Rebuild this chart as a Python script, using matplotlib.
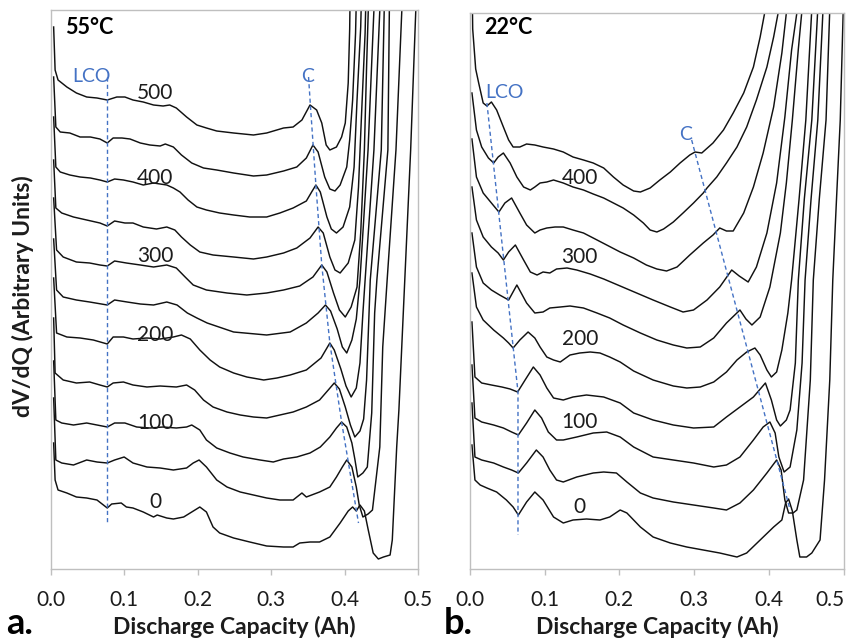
import matplotlib
matplotlib.use("Agg")
import matplotlib.pyplot as plt
import numpy as np

plt.rcParams["font.family"] = ["Lato", "DejaVu Sans"]

# dV/dQ traces, (capacity in Ah, stacked dV/dQ in arbitrary units), one list per cycle count
# 55 C cell
hot_500 = [(0.004, 542), (0.006, 499), (0.010, 489), (0.022, 482), (0.035, 476), (0.049, 472), (0.063, 471),
           (0.077, 469), (0.090, 472), (0.101, 472), (0.112, 469), (0.126, 467), (0.140, 464), (0.153, 463),
           (0.162, 464), (0.171, 461), (0.185, 452), (0.199, 444), (0.212, 441), (0.226, 438), (0.249, 436),
           (0.276, 434), (0.294, 436), (0.317, 441), (0.330, 442), (0.342, 449), (0.353, 464), (0.362, 459),
           (0.369, 446), (0.375, 424), (0.380, 419), (0.389, 422), (0.396, 432), (0.401, 446), (0.405, 486),
           (0.407, 540), (0.408, 600)]
hot_450 = [(0.004, 492), (0.007, 442), (0.013, 437), (0.026, 436), (0.040, 432), (0.054, 432), (0.067, 430),
           (0.077, 426), (0.085, 431), (0.097, 431), (0.108, 430), (0.122, 426), (0.135, 424), (0.149, 423),
           (0.156, 425), (0.167, 422), (0.178, 414), (0.192, 406), (0.208, 401), (0.226, 399), (0.249, 396),
           (0.276, 393), (0.294, 394), (0.317, 398), (0.335, 402), (0.348, 411), (0.357, 424), (0.364, 417),
           (0.373, 392), (0.380, 380), (0.387, 378), (0.394, 384), (0.403, 402), (0.407, 429), (0.411, 469),
           (0.415, 536), (0.417, 600)]
hot_400 = [(0.004, 452), (0.007, 402), (0.013, 397), (0.026, 394), (0.040, 392), (0.054, 391), (0.067, 389),
           (0.077, 387), (0.087, 390), (0.099, 389), (0.112, 387), (0.126, 384), (0.140, 386), (0.158, 384),
           (0.167, 381), (0.176, 377), (0.187, 369), (0.199, 362), (0.212, 359), (0.230, 356), (0.249, 354),
           (0.271, 352), (0.294, 352), (0.312, 356), (0.330, 361), (0.348, 368), (0.356, 378), (0.361, 384),
           (0.367, 377), (0.376, 352), (0.382, 340), (0.389, 336), (0.398, 342), (0.407, 362), (0.413, 402),
           (0.417, 469), (0.422, 542), (0.424, 600)]
hot_350 = [(0.004, 409), (0.007, 361), (0.015, 356), (0.031, 352), (0.049, 349), (0.067, 346), (0.077, 343),
           (0.087, 348), (0.101, 346), (0.112, 346), (0.126, 342), (0.144, 340), (0.158, 342), (0.169, 339),
           (0.178, 332), (0.190, 324), (0.203, 317), (0.221, 314), (0.249, 312), (0.276, 310), (0.294, 312),
           (0.317, 316), (0.335, 321), (0.353, 331), (0.364, 342), (0.371, 336), (0.380, 312), (0.387, 299),
           (0.394, 296), (0.405, 306), (0.414, 329), (0.419, 382), (0.423, 452), (0.428, 536), (0.430, 600)]
hot_300 = [(0.004, 371), (0.008, 319), (0.017, 312), (0.035, 307), (0.053, 306), (0.067, 304), (0.077, 303),
           (0.087, 308), (0.103, 306), (0.122, 304), (0.140, 302), (0.158, 304), (0.171, 301), (0.183, 292),
           (0.194, 284), (0.212, 279), (0.240, 276), (0.267, 274), (0.294, 276), (0.317, 279), (0.339, 283),
           (0.357, 292), (0.369, 304), (0.376, 297), (0.385, 276), (0.393, 259), (0.401, 252), (0.409, 262),
           (0.417, 282), (0.422, 336), (0.427, 419), (0.430, 502), (0.434, 600)]
hot_250 = [(0.004, 330), (0.008, 279), (0.017, 272), (0.035, 269), (0.053, 267), (0.077, 264), (0.087, 269),
           (0.104, 267), (0.122, 265), (0.140, 264), (0.158, 267), (0.172, 264), (0.186, 256), (0.199, 251),
           (0.213, 246), (0.249, 237), (0.294, 234), (0.326, 237), (0.348, 246), (0.364, 256), (0.374, 264),
           (0.381, 258), (0.390, 240), (0.397, 222), (0.403, 216), (0.410, 229), (0.416, 250), (0.421, 289),
           (0.432, 419), (0.440, 559), (0.441, 600)]
hot_200 = [(0.004, 291), (0.008, 236), (0.022, 232), (0.040, 231), (0.058, 229), (0.077, 225), (0.085, 232),
           (0.099, 232), (0.112, 230), (0.131, 231), (0.149, 230), (0.167, 232), (0.178, 234), (0.190, 230),
           (0.203, 219), (0.217, 209), (0.230, 202), (0.249, 196), (0.267, 192), (0.290, 189), (0.308, 191),
           (0.326, 194), (0.348, 199), (0.368, 211), (0.380, 226), (0.386, 219), (0.395, 200), (0.402, 183),
           (0.409, 172), (0.416, 181), (0.421, 206), (0.425, 256), (0.428, 289), (0.440, 419), (0.448, 559),
           (0.449, 600)]
hot_150 = [(0.004, 251), (0.006, 196), (0.017, 189), (0.035, 186), (0.053, 187), (0.067, 184), (0.077, 182),
           (0.085, 186), (0.099, 187), (0.112, 184), (0.131, 182), (0.149, 183), (0.171, 182), (0.185, 184),
           (0.196, 179), (0.208, 169), (0.221, 162), (0.240, 157), (0.258, 154), (0.276, 152), (0.294, 151),
           (0.312, 154), (0.330, 157), (0.348, 162), (0.366, 169), (0.379, 180), (0.386, 186), (0.393, 180),
           (0.401, 162), (0.408, 144), (0.414, 132), (0.421, 138), (0.426, 150), (0.430, 189), (0.435, 289),
           (0.450, 419), (0.454, 559), (0.455, 600)]
hot_100 = [(0.004, 208), (0.007, 149), (0.015, 146), (0.031, 144), (0.049, 146), (0.063, 144), (0.077, 142),
           (0.087, 146), (0.101, 146), (0.117, 142), (0.135, 141), (0.153, 142), (0.171, 141), (0.185, 142),
           (0.192, 144), (0.203, 139), (0.212, 129), (0.226, 121), (0.244, 116), (0.262, 112), (0.285, 109),
           (0.303, 107), (0.317, 110), (0.335, 112), (0.353, 116), (0.367, 122), (0.380, 132), (0.389, 141),
           (0.396, 147), (0.403, 142), (0.410, 126), (0.414, 110), (0.418, 92), (0.425, 96), (0.431, 102),
           (0.437, 156), (0.441, 256), (0.444, 289), (0.459, 419), (0.461, 559), (0.462, 600)]
hot_50 = [(0.004, 171), (0.007, 109), (0.015, 106), (0.031, 104), (0.049, 109), (0.063, 107), (0.077, 106),
          (0.087, 109), (0.100, 112), (0.112, 106), (0.131, 102), (0.149, 101), (0.167, 99), (0.185, 101),
          (0.194, 106), (0.202, 109), (0.212, 102), (0.226, 89), (0.240, 82), (0.258, 77), (0.276, 74),
          (0.294, 71), (0.312, 69), (0.330, 69), (0.342, 76), (0.348, 72), (0.366, 77), (0.380, 82),
          (0.389, 92), (0.397, 102), (0.403, 109), (0.410, 102), (0.416, 82), (0.420, 64), (0.425, 52),
          (0.432, 55), (0.438, 59), (0.448, 122), (0.452, 222), (0.458, 289), (0.470, 419), (0.478, 559),
          (0.479, 600)]
hot_0 = [(0.004, 126), (0.006, 89), (0.010, 79), (0.022, 76), (0.035, 72), (0.049, 71), (0.063, 69),
         (0.077, 61), (0.083, 65), (0.096, 66), (0.103, 62), (0.112, 61), (0.126, 57), (0.140, 52), (0.145, 54),
         (0.158, 51), (0.167, 50), (0.181, 52), (0.192, 57), (0.203, 62), (0.212, 57), (0.221, 42), (0.230, 36),
         (0.249, 31), (0.271, 27), (0.294, 23), (0.317, 22), (0.330, 22), (0.339, 26), (0.353, 27), (0.366, 27),
         (0.380, 32), (0.394, 46), (0.405, 58), (0.411, 62), (0.416, 58), (0.421, 64), (0.427, 58), (0.432, 40),
         (0.439, 16), (0.446, 10), (0.453, 12), (0.462, 14), (0.465, 29), (0.471, 122), (0.474, 159),
         (0.482, 289), (0.490, 419), (0.497, 559), (0.498, 600)]

# 22 C cell
room_450 = [(0.003, 600), (0.004, 540), (0.008, 500), (0.012, 486), (0.018, 466), (0.023, 463), (0.029, 467),
            (0.036, 459), (0.045, 442), (0.052, 429), (0.058, 422), (0.067, 422), (0.076, 425), (0.087, 424),
            (0.098, 422), (0.112, 420), (0.125, 417), (0.138, 412), (0.152, 409), (0.165, 406), (0.179, 401),
            (0.192, 392), (0.205, 384), (0.219, 378), (0.228, 377), (0.241, 381), (0.254, 389), (0.268, 397),
            (0.281, 406), (0.294, 414), (0.301, 417), (0.310, 416), (0.325, 426), (0.339, 439), (0.352, 456),
            (0.366, 476), (0.379, 502), (0.388, 532), (0.394, 556), (0.397, 600)]
room_400 = [(0.003, 476), (0.009, 439), (0.016, 422), (0.025, 411), (0.032, 406), (0.038, 412), (0.045, 416),
            (0.054, 406), (0.063, 392), (0.072, 382), (0.081, 379), (0.087, 382), (0.094, 386), (0.103, 387),
            (0.112, 389), (0.125, 386), (0.138, 382), (0.152, 379), (0.165, 375), (0.179, 371), (0.192, 366),
            (0.205, 361), (0.219, 354), (0.232, 346), (0.241, 339), (0.250, 337), (0.259, 340), (0.272, 347),
            (0.285, 356), (0.299, 366), (0.312, 376), (0.317, 381), (0.330, 392), (0.343, 406), (0.357, 422),
            (0.370, 442), (0.383, 469), (0.397, 502), (0.406, 532), (0.412, 556), (0.414, 600)]
room_350 = [(0.003, 430), (0.009, 392), (0.018, 376), (0.029, 366), (0.039, 357), (0.047, 366), (0.056, 371),
            (0.067, 356), (0.076, 344), (0.087, 336), (0.094, 339), (0.103, 341), (0.114, 342), (0.125, 342),
            (0.138, 339), (0.152, 336), (0.165, 331), (0.183, 324), (0.201, 317), (0.219, 311), (0.236, 304),
            (0.250, 300), (0.263, 298), (0.277, 302), (0.294, 314), (0.312, 326), (0.325, 334), (0.334, 341),
            (0.343, 338), (0.352, 338), (0.366, 356), (0.379, 382), (0.392, 416), (0.406, 462), (0.417, 516),
            (0.423, 556), (0.425, 600)]
room_300 = [(0.003, 382), (0.009, 349), (0.018, 332), (0.029, 322), (0.038, 316), (0.045, 309), (0.052, 317),
            (0.061, 324), (0.072, 309), (0.081, 297), (0.090, 294), (0.098, 297), (0.107, 296), (0.116, 300),
            (0.130, 301), (0.143, 299), (0.161, 295), (0.179, 290), (0.201, 283), (0.223, 276), (0.245, 269),
            (0.268, 262), (0.285, 257), (0.299, 259), (0.317, 269), (0.334, 282), (0.350, 299), (0.360, 293),
            (0.372, 287), (0.383, 302), (0.397, 336), (0.410, 386), (0.421, 452), (0.430, 519), (0.437, 556),
            (0.439, 600)]
room_250 = [(0.003, 336), (0.009, 302), (0.018, 286), (0.029, 279), (0.040, 274), (0.052, 269), (0.063, 284),
            (0.076, 266), (0.087, 256), (0.098, 257), (0.107, 261), (0.121, 262), (0.134, 263), (0.152, 261),
            (0.170, 256), (0.187, 251), (0.205, 244), (0.228, 236), (0.250, 229), (0.272, 224), (0.290, 221),
            (0.308, 222), (0.326, 231), (0.343, 246), (0.361, 259), (0.369, 250), (0.377, 244), (0.388, 252),
            (0.401, 282), (0.415, 336), (0.423, 386), (0.431, 449), (0.439, 520), (0.444, 560), (0.445, 600)]
room_200 = [(0.003, 296), (0.009, 262), (0.018, 249), (0.032, 239), (0.045, 231), (0.052, 226), (0.058, 221),
            (0.067, 229), (0.078, 237), (0.087, 231), (0.094, 222), (0.103, 212), (0.112, 209), (0.121, 207),
            (0.134, 214), (0.147, 216), (0.161, 217), (0.174, 216), (0.187, 212), (0.201, 207), (0.219, 198),
            (0.245, 189), (0.272, 183), (0.290, 181), (0.308, 182), (0.326, 187), (0.343, 197), (0.357, 209),
            (0.370, 217), (0.381, 221), (0.388, 214), (0.397, 199), (0.403, 192), (0.410, 197), (0.417, 219),
            (0.425, 256), (0.430, 289), (0.440, 370), (0.449, 449), (0.457, 560), (0.458, 600)]
room_150 = [(0.003, 247), (0.007, 192), (0.016, 186), (0.029, 184), (0.043, 182), (0.054, 180), (0.064, 177),
            (0.074, 189), (0.085, 202), (0.094, 194), (0.103, 181), (0.112, 171), (0.125, 169), (0.138, 172),
            (0.156, 174), (0.179, 172), (0.201, 166), (0.219, 156), (0.245, 149), (0.272, 144), (0.299, 141),
            (0.326, 142), (0.343, 152), (0.361, 162), (0.379, 172), (0.395, 186), (0.403, 169), (0.410, 149),
            (0.415, 143), (0.423, 149), (0.428, 159), (0.435, 206), (0.439, 289), (0.447, 370), (0.457, 449),
            (0.465, 560), (0.466, 600)]
room_100 = [(0.003, 204), (0.007, 151), (0.016, 147), (0.032, 144), (0.045, 141), (0.056, 137), (0.065, 134),
            (0.076, 146), (0.087, 159), (0.096, 151), (0.105, 137), (0.116, 129), (0.125, 129), (0.143, 132),
            (0.165, 136), (0.183, 137), (0.201, 132), (0.219, 122), (0.245, 112), (0.272, 109), (0.299, 106),
            (0.326, 102), (0.343, 104), (0.361, 112), (0.379, 129), (0.392, 142), (0.401, 147), (0.408, 136),
            (0.413, 112), (0.420, 97), (0.428, 102), (0.437, 139), (0.444, 206), (0.448, 289), (0.456, 370),
            (0.465, 449), (0.472, 560), (0.473, 600)]
room_50 = [(0.003, 166), (0.007, 112), (0.016, 109), (0.032, 106), (0.045, 102), (0.056, 99), (0.065, 96),
           (0.076, 106), (0.089, 119), (0.098, 112), (0.107, 99), (0.116, 89), (0.125, 87), (0.143, 92),
           (0.165, 96), (0.179, 97), (0.196, 96), (0.210, 87), (0.228, 76), (0.245, 71), (0.272, 67),
           (0.299, 64), (0.326, 61), (0.343, 59), (0.361, 66), (0.379, 79), (0.397, 96), (0.410, 109),
           (0.416, 99), (0.421, 69), (0.426, 56), (0.432, 56), (0.437, 59), (0.446, 89), (0.455, 189),
           (0.459, 289), (0.467, 370), (0.476, 449), (0.481, 560), (0.482, 600)]
room_0 = [(0.003, 124), (0.007, 89), (0.014, 84), (0.023, 81), (0.036, 77), (0.049, 69), (0.058, 62),
          (0.065, 54), (0.076, 67), (0.087, 77), (0.098, 69), (0.112, 52), (0.125, 46), (0.138, 49), (0.156, 50),
          (0.174, 49), (0.187, 52), (0.201, 59), (0.210, 56), (0.228, 42), (0.245, 32), (0.268, 26), (0.290, 22),
          (0.312, 19), (0.334, 16), (0.357, 12), (0.370, 16), (0.388, 29), (0.406, 42), (0.417, 49), (0.422, 66),
          (0.426, 70), (0.431, 58), (0.437, 29), (0.441, 12), (0.450, 12), (0.457, 16), (0.468, 29),
          (0.474, 89), (0.481, 189), (0.485, 289), (0.490, 370), (0.495, 449), (0.499, 560)]

hot_curves = [hot_0, hot_50, hot_100, hot_150, hot_200, hot_250, hot_300, hot_350, hot_400, hot_450, hot_500]
room_curves = [room_0, room_50, room_100, room_150, room_200, room_250, room_300, room_350, room_400, room_450]

# cycle labels written next to every other trace
hot_labels = ["0", "100", "200", "300", "400", "500"]
hot_label_y = [67, 146, 234, 313, 391, 476]
room_labels = ["0", "100", "200", "300", "400"]
room_label_y = [62, 147, 230, 312, 391]

# peak-tracking guides (LCO cathode and graphite "C" features)
hot_lco_guide = [(0.077, 492), (0.077, 46)]
hot_c_guide = [(0.351, 492), (0.3535, 464), (0.361, 384), (0.369, 304), (0.380, 226), (0.396, 147), (0.419, 46)]
room_lco_guide = [(0.023, 466), (0.0645, 177), (0.0645, 34)]
room_c_guide = [(0.2965, 429), (0.428, 59)]

xticks = [0.0, 0.1, 0.2, 0.3, 0.4, 0.5]

BLUE = "#4472C4"
GRID_GREY = "#BFBFBF"
INK = "#1c1c1c"

W, H = 857, 640
fig = plt.figure(figsize=(W / 100, H / 100), dpi=100)
ax1 = fig.add_axes([50.7 / W, 1 - 569 / H, (418 - 50.7) / W, (569 - 10) / H])
ax2 = fig.add_axes([469.7 / W, 1 - 569 / H, (844 - 469.7) / W, (569 - 13) / H])


def draw_panel(ax, curves, top, labels, label_y, label_x, lco, cguide):
    for c in curves:
        xs, ys = zip(*c)
        ax.plot(xs, ys, color="#111111", lw=1.05, solid_joinstyle="round")
    for guide in (lco, cguide):
        gx, gy = zip(*guide)
        ax.plot(gx, gy, color=BLUE, lw=1.0, dashes=(3, 2.2))
    for t, y in zip(labels, label_y):
        ax.text(label_x, y, t, ha="center", va="center", fontsize=15, color=INK)
    ax.set_xlim(0, 0.5)
    ax.set_ylim(0, top)
    ax.set_xticks(xticks)
    ax.set_xticklabels(["%.1f" % v for v in xticks])
    ax.set_yticks([])
    for s in ax.spines.values():
        s.set_color(GRID_GREY)
        s.set_linewidth(1.0)
    ax.tick_params(axis="x", direction="out", length=4, width=1.0, color=GRID_GREY,
                   pad=11, labelsize=15, labelcolor=INK)


draw_panel(ax1, hot_curves, 559, hot_labels, hot_label_y, 0.142, hot_lco_guide, hot_c_guide)
draw_panel(ax2, room_curves, 556, room_labels, room_label_y, 0.147, room_lco_guide, room_c_guide)

# the last tick label of the right panel sits flush with the figure edge
ax2.get_xticklabels()[-1].set_horizontalalignment("right")
ax2.get_xticklabels()[-1].set_x(0.5)

# panel annotations
ax1.text(0.019, 542, "55°C", fontsize=15.5, fontweight="bold", va="center", ha="left")
ax2.text(0.019, 542, "22°C", fontsize=15.5, fontweight="bold", va="center", ha="left")
ax1.text(0.030, 493, "LCO", fontsize=14, color=BLUE, va="center", ha="left")
ax1.text(0.341, 493, "C", fontsize=14, color=BLUE, va="center", ha="left")
ax2.text(0.021, 477, "LCO", fontsize=14, color=BLUE, va="center", ha="left")
ax2.text(0.280, 434, "C", fontsize=14, color=BLUE, va="center", ha="left")

fig.text(23 / W, 1 - 296 / H, "dV/dQ (Arbitrary Units)", rotation=90, fontsize=16.5,
         fontweight="bold", ha="center", va="center", color=INK)
fig.text(234 / W, 1 - 627 / H, "Discharge Capacity (Ah)", fontsize=16.5, fontweight="bold",
         ha="center", va="center", color=INK)
fig.text(657 / W, 1 - 627 / H, "Discharge Capacity (Ah)", fontsize=16.5, fontweight="bold",
         ha="center", va="center", color=INK)
fig.text(6 / W, 1 - 624 / H, "a.", fontsize=26, fontweight="bold", ha="left", va="center")
fig.text(444 / W, 1 - 624 / H, "b.", fontsize=26, fontweight="bold", ha="left", va="center")

fig.savefig("out.png", dpi=100)
